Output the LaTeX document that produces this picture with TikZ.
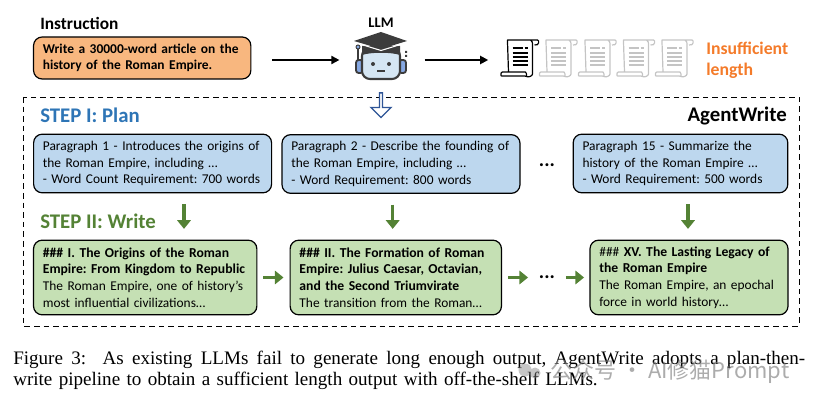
\documentclass[tikz,border=0pt]{standalone}
\usepackage{fontspec}
\setmainfont{Carlito}
\newfontfamily\capfont{Liberation Serif}
\newfontfamily\markfont{Noto Sans CJK SC}
\usepackage{tikz}
\usetikzlibrary{arrows.meta,shapes.arrows}
\frenchspacing
\newcommand{\boldline}[1]{{\bfseries\fontsize{10.25}{12.5}\selectfont #1}}
\definecolor{orangefill}{HTML}{F8B77F}
\definecolor{orangetext}{HTML}{F47B2A}
\definecolor{planfill}{HTML}{BDD7EE}
\definecolor{planblue}{HTML}{2E75B6}
\definecolor{writefill}{HTML}{C5E0B4}
\definecolor{writegreen}{HTML}{548235}
\definecolor{hollowblue}{HTML}{2F5597}
\definecolor{robotdark}{HTML}{3C3C3C}
\definecolor{robotface}{HTML}{D5E6F3}
\definecolor{robotear}{HTML}{86A8E2}
\definecolor{scrollgrey}{HTML}{C4C4C4}
\tikzset{
  textbox/.style={draw=black, line width=0.9pt, rounded corners=6.5pt, inner xsep=7pt, inner ysep=0pt, align=left, font=\fontsize{10.05}{12.5}\selectfont},
  scrollnode/.style={minimum width=28pt, minimum height=28pt, inner sep=0pt},
  headnode/.style={inner sep=0pt, anchor=west, font=\bfseries\fontsize{15.6}{18}\selectfont},
  blackarrow/.style={-{Triangle[length=6pt,width=6pt]}, line width=1.4pt},
  greenarrow/.style={-{Triangle[length=6.5pt,width=10pt]}, line width=2.6pt, writegreen},
  hollowarrow/.style={single arrow, draw=hollowblue, fill=white, line width=1pt, shape border rotate=270, minimum height=18.5pt, minimum width=15pt, single arrow head extend=3pt, inner sep=0pt},
  scrollicon/.pic={
    \draw[line width=0.9pt, line join=round, rounded corners=1.5pt] (-12,14) -- (-13,-16) .. controls (-13,-18) and (-11,-18) .. (-9,-18) -- (15,-18) .. controls (19,-18) and (19,-12) .. (14,-13) (10,-18) .. controls (12,-17) and (12,-15) .. (12,-12) -- (12,14) .. controls (12,18) and (8,19) .. (6,18) -- (-17,18) .. controls (-20,18) and (-20,14) .. (-16,14) -- (3,14) .. controls (6,14) and (6,17) .. (6,18);
    \foreach \ypos in {-5,-1,3,7} \draw[line width=0.9pt] (-8,\ypos) -- (7,\ypos);
    \draw[line width=0.9pt] (-8,-10) -- (2,-10) (4,-10) -- (7,-10);
  },
  robothead/.pic={
    \draw[robotdark, line width=1.4pt, fill=robotear, rounded corners=2pt] (-25,0) rectangle (-18,13);
    \draw[robotdark, line width=1.4pt, fill=robotear, rounded corners=2pt] (18,0) rectangle (25,13);
    \draw[robotdark, line width=1.6pt, fill=robotface, rounded corners=6pt] (-19,-12) rectangle (19,19);
    \fill[robotdark] (-19,-14) -- (-19,-5) .. controls (-10,-8) and (10,-8) .. (19,-5) -- (19,-14) -- cycle;
    \draw[robotdark, line width=1pt] (-23,-13) -- (-23,0);
    \draw[robotdark, line width=0.7pt, fill=robotear] (-23,-13) circle (2);
    \fill[robotdark] (24,-9) rectangle (26,-7) (24,-5) rectangle (26,-3);
    \fill[robotdark] (-27,-19) -- (0,-28) -- (26,-19) -- (0,-11) -- cycle;
    \draw[white, line width=0.8pt] (-18,-15) -- (0,-9.5) -- (18,-15);
    \fill[robotdark] (-8,4) circle (2) (8,4) circle (2);
    \draw[robotdark, line width=1.2pt] (-4,11) -- (4,11);
  }
}
\begin{document}
\begin{tikzpicture}[x=0.75pt, y=-0.75pt]
  \useasboundingbox (0,0) rectangle (813,402);

  \draw[line width=0.7pt, dash pattern=on 4.2pt off 3pt] (23,97) rectangle (799,326);

  \node[headnode, font=\bfseries\fontsize{13}{15}\selectfont] (instrhead) at (40,23) {Instruction};
  \node[textbox, fill=orangefill, minimum width=163pt, minimum height=31.5pt, text width=149pt, font=\bfseries\fontsize{10.1}{12.2}\selectfont] (instr) at (142.2,58) {Write a 30000-word article on the\\history of the Roman Empire.};
  \node[minimum width=40pt, minimum height=36pt, inner sep=0pt] (llm) at (381,60) {};
  \pic at (llm) {robothead};
  \node[inner sep=0pt, font=\bfseries\fontsize{11}{12}\selectfont] (llmhead) at (381,23) {LLM};

  \foreach \i/\xpos/\col in {0/520.5/black, 1/559/scrollgrey, 2/598/scrollgrey, 3/636.5/scrollgrey, 4/675/scrollgrey} {
    \node[scrollnode] (scroll\i) at (\xpos,60) {};
    \pic[color=\col] at (\xpos,58) {scrollicon};
  }
  \node[headnode, align=left, text=orangetext, font=\bfseries\fontsize{13.3}{16}\selectfont] (short) at (706,60) {Insufficient\\length};

  \node[hollowarrow] (downllm) at (381,104.5) {};

  \node[headnode, text=planblue] (planhead) at (40,115) {STEP I: Plan};
  \node[headnode, anchor=east] (agenthead) at (787,116) {AgentWrite};
  \node[headnode, text=writegreen] (writehead) at (40,221) {STEP II: Write};

  \node[textbox, fill=planfill, minimum width=178.5pt, minimum height=44pt, text width=164.5pt] (planA) at (152.6,163.5) {Paragraph 1 - Introduces the origins of\\the Roman Empire, including \dots\\- Word Count Requirement: 700 words};
  \node[textbox, fill=planfill, minimum width=178.5pt, minimum height=44pt, text width=164.5pt] (planB) at (401,164) {Paragraph 2 - Describe the founding of\\the Roman Empire, including \dots\\- Word Requirement: 800 words};
  \node[textbox, fill=planfill, minimum width=161pt, minimum height=44pt, text width=147pt] (planC) at (680.5,163.5) {Paragraph 15 - Summarize the\\history of the Roman Empire \dots\\- Word Requirement: 500 words};
  \node[inner sep=0pt, font=\bfseries\fontsize{15}{15}\selectfont] (dotsP) at (547,165) {...};

  \node[textbox, fill=writefill, minimum width=167.5pt, minimum height=56pt, text width=153.5pt] (writeA) at (145.2,277.5) {\boldline{\#\#\# I. The Origins of the Roman}\\\boldline{Empire: From Kingdom to Republic}\\The Roman Empire, one of history’s\\most influential civilizations\dots};
  \node[textbox, fill=writefill, minimum width=158.5pt, minimum height=56pt, text width=144.5pt] (writeB) at (395.8,277.5) {\boldline{\#\#\# II. The Formation of Roman}\\\boldline{Empire: Julius Caesar, Octavian,}\\\boldline{and the Second Triumvirate}\\The transition from the Roman\dots};
  \node[textbox, fill=writefill, minimum width=148.5pt, minimum height=56pt, text width=134.5pt] (writeC) at (689,277.5) {\#\#\# \boldline{XV. The Lasting Legacy of}\\\boldline{the Roman Empire}\\The Roman Empire, an epochal\\force in world history\dots};
  \node[inner sep=0pt, minimum width=14pt, font=\bfseries\fontsize{15}{15}\selectfont] (dotsW) at (547,277) {...};

  \coordinate (downA) at (184,0);
  \coordinate (downB) at (392.7,0);
  \coordinate (downC) at (688,0);

  \path[blackarrow]
  (instr.east |- llm.west) edge[shorten <=15.5pt, shorten >=11pt] (llm.west)
  (llm.east) edge[shorten <=12.5pt, shorten >=10pt] (scroll0.west)
  ;
  \path[greenarrow]
  (downA |- planA.south) edge[shorten <=8pt, shorten >=8pt] (downA |- writeA.north)
  (downB |- planB.south) edge[shorten <=8pt, shorten >=8pt] (downB |- writeB.north)
  (downC |- planC.south) edge[shorten <=8pt, shorten >=8pt] (downC |- writeC.north)
  (writeA.east) edge[shorten <=4.5pt, shorten >=4.5pt] (writeB.west)
  (writeB.east) edge[shorten <=4.5pt, shorten >=7pt] (dotsW.west |- writeB.east)
  (dotsW.east |- writeC.west) edge[shorten <=7pt, shorten >=4pt] (writeC.west)
  ;

  \node[inner sep=0pt, anchor=north west, text width=594pt, align=left, font=\capfont\fontsize{14.3}{15.5}\selectfont] (caption) at (13,351) {\makebox[594pt][s]{\spaceskip=0.25em plus 1em\relax Figure 3:\ \ As existing LLMs fail to generate long enough output, AgentWrite adopts a plan-then-}\\write pipeline to obtain a sufficient length output with off-the-shelf LLMs.};

  \fill[gray, opacity=0.45] (525,370) circle (6.5) (535,373) circle (5.5);
  \node[inner sep=0pt, anchor=west, text=gray, opacity=0.65, font=\markfont\fontsize{16.5}{19}\selectfont] (mark) at (550,372) {公众号 · AI修猫Prompt};
\end{tikzpicture}
\end{document}
